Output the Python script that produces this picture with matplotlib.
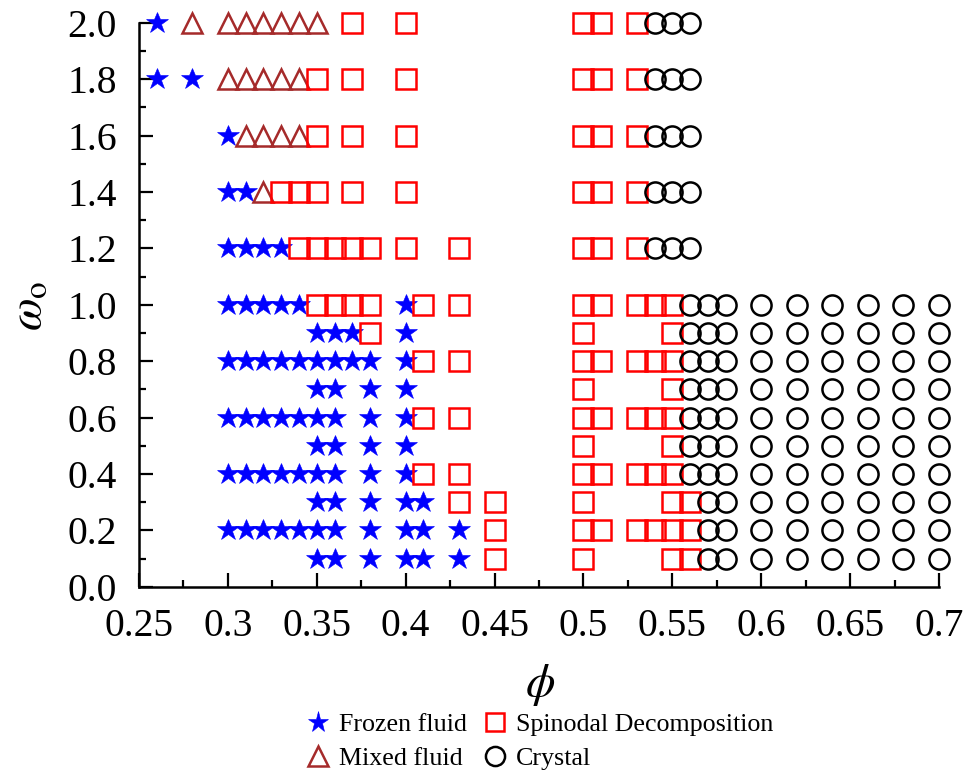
import matplotlib
matplotlib.use("Agg")
import matplotlib.pyplot as plt
from matplotlib.ticker import MultipleLocator, FixedLocator, FuncFormatter

plt.rcParams["font.family"] = ["Liberation Serif", "DejaVu Serif"]
plt.rcParams["mathtext.fontset"] = "stix"

# Phase-diagram points: omega_o -> list of packing fractions phi
frozen_fluid = {
    2.0: [0.26],
    1.8: [0.26, 0.28],
    1.6: [0.30],
    1.4: [0.30, 0.31],
    1.2: [0.30, 0.31, 0.32, 0.33],
    1.0: [0.30, 0.31, 0.32, 0.33, 0.34, 0.40],
    0.9: [0.35, 0.36, 0.37, 0.40],
    0.8: [0.30, 0.31, 0.32, 0.33, 0.34, 0.35, 0.36, 0.37, 0.38, 0.40],
    0.7: [0.35, 0.36, 0.38, 0.40],
    0.6: [0.30, 0.31, 0.32, 0.33, 0.34, 0.35, 0.36, 0.38, 0.40],
    0.5: [0.35, 0.36, 0.38, 0.40],
    0.4: [0.30, 0.31, 0.32, 0.33, 0.34, 0.35, 0.36, 0.38, 0.40],
    0.3: [0.35, 0.36, 0.38, 0.40, 0.41],
    0.2: [0.30, 0.31, 0.32, 0.33, 0.34, 0.35, 0.36, 0.38, 0.40, 0.41, 0.43],
    0.1: [0.35, 0.36, 0.38, 0.40, 0.41, 0.43],
}

mixed_fluid = {
    2.0: [0.28, 0.30, 0.31, 0.32, 0.33, 0.34, 0.35],
    1.8: [0.30, 0.31, 0.32, 0.33, 0.34],
    1.6: [0.31, 0.32, 0.33, 0.34],
    1.4: [0.32],
}

spinodal = {
    2.0: [0.37, 0.40, 0.50, 0.51, 0.53],
    1.8: [0.35, 0.37, 0.40, 0.50, 0.51, 0.53],
    1.6: [0.35, 0.37, 0.40, 0.50, 0.51, 0.53],
    1.4: [0.33, 0.34, 0.35, 0.37, 0.40, 0.50, 0.51, 0.53],
    1.2: [0.34, 0.35, 0.36, 0.37, 0.38, 0.40, 0.43, 0.50, 0.51, 0.53],
    1.0: [0.35, 0.36, 0.37, 0.38, 0.41, 0.43, 0.50, 0.51, 0.53, 0.54, 0.55],
    0.9: [0.38, 0.50, 0.55],
    0.8: [0.41, 0.43, 0.50, 0.51, 0.53, 0.54, 0.55],
    0.7: [0.50, 0.55],
    0.6: [0.41, 0.43, 0.50, 0.51, 0.53, 0.54, 0.55],
    0.5: [0.50, 0.55],
    0.4: [0.41, 0.43, 0.50, 0.51, 0.53, 0.54, 0.55],
    0.3: [0.43, 0.45, 0.50, 0.55, 0.56],
    0.2: [0.45, 0.50, 0.51, 0.53, 0.54, 0.55, 0.56],
    0.1: [0.45, 0.50, 0.55, 0.56],
}

crystal_high = [0.54, 0.55, 0.56]
crystal_mid = [0.56, 0.57, 0.58, 0.60, 0.62, 0.64, 0.66, 0.68, 0.70]
crystal_low = [0.57, 0.58, 0.60, 0.62, 0.64, 0.66, 0.68, 0.70]
crystal = {
    2.0: crystal_high, 1.8: crystal_high, 1.6: crystal_high,
    1.4: crystal_high, 1.2: crystal_high,
    1.0: crystal_mid, 0.9: crystal_mid, 0.8: crystal_mid, 0.7: crystal_mid,
    0.6: crystal_mid, 0.5: crystal_mid, 0.4: crystal_mid,
    0.3: crystal_low, 0.2: crystal_low, 0.1: crystal_low,
}

x_ticks = [0.25, 0.30, 0.35, 0.40, 0.45, 0.50, 0.55, 0.60, 0.65, 0.70]
x_tick_labels = ["0.25", "0.3", "0.35", "0.4", "0.45", "0.5", "0.55", "0.6", "0.65", "0.7"]


def flatten(rows):
    xs, ys = [], []
    for w, phis in rows.items():
        for p in phis:
            xs.append(p)
            ys.append(w)
    return xs, ys


W, H = 967, 776
fig = plt.figure(figsize=(W / 100, H / 100), dpi=100)
ax = fig.add_axes([139 / W, 1 - 586.7 / H, 800 / W, (586.7 - 22.7) / H])

lw = 1.8
x, y = flatten(frozen_fluid)
h1, = ax.plot(x, y, ls="none", marker="*", ms=16.5, color="#0000ff",
              mec="#0000ff", mew=0.4, clip_on=False, label="Frozen fluid", zorder=3)
x, y = flatten(mixed_fluid)
h2, = ax.plot(x, y, ls="none", marker="^", ms=14.5, mfc="none", mec="#a52a2a",
              mew=lw, clip_on=False, label="Mixed fluid", zorder=3)
x, y = flatten(spinodal)
h3, = ax.plot(x, y, ls="none", marker="s", ms=14, mfc="none", mec="#ff0000",
              mew=lw, clip_on=False, label="Spinodal Decomposition", zorder=4)
x, y = flatten(crystal)
h4, = ax.plot(x, y, ls="none", marker="o", ms=14.5, mfc="none", mec="black",
              mew=lw, clip_on=False, label="Crystal", zorder=5)

ax.set_xlim(0.25, 0.70)
ax.set_ylim(0.0, 2.0)

ax.xaxis.set_major_locator(FixedLocator(x_ticks))
ax.set_xticklabels(x_tick_labels)
ax.xaxis.set_minor_locator(MultipleLocator(0.025))
ax.yaxis.set_major_locator(MultipleLocator(0.2))
ax.yaxis.set_minor_locator(MultipleLocator(0.1))
ax.yaxis.set_major_formatter(FuncFormatter(lambda v, _: f"{v:.1f}"))

for side in ("top", "right"):
    ax.spines[side].set_visible(False)
for side in ("left", "bottom"):
    ax.spines[side].set_linewidth(1.8)

ax.tick_params(which="both", direction="in", top=False, right=False, width=1.6)
ax.tick_params(which="major", length=10, labelsize=28.5)
ax.tick_params(which="minor", length=5)
ax.tick_params(axis="x", which="major", pad=15)
ax.tick_params(axis="y", which="major", pad=16)

# axis titles placed in figure pixels
fig.text(540 / W, 1 - 685 / H, r"$\phi$", fontsize=34, ha="center", va="center")
fig.text(30 / W, 1 - 306 / H, r"$\omega_\mathrm{o}$", fontsize=34, rotation=90,
         ha="center", va="center")

ax.legend(handles=[h1, h2, h3, h4], ncol=2, frameon=False, fontsize=18.7,
          loc="center", bbox_to_anchor=(0.5, -0.274), handlelength=1.0,
          handletextpad=0.3, columnspacing=0.6, labelspacing=0.42,
          borderaxespad=0, markerscale=0.95)

fig.savefig("out.png", dpi=100)
